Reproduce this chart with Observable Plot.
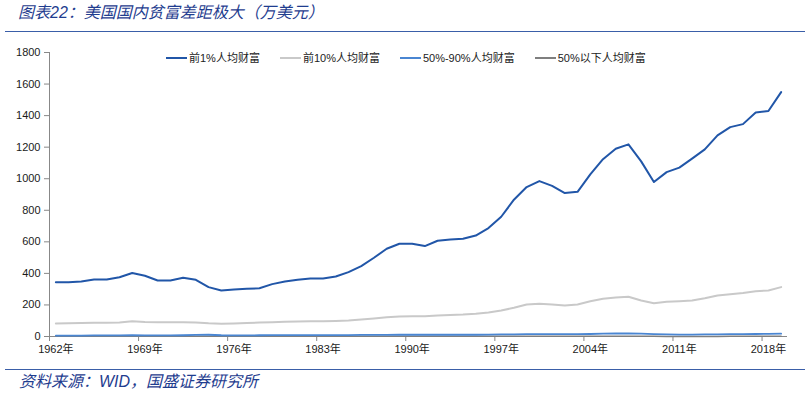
<!DOCTYPE html>
<html><head><meta charset="utf-8">
<script src="https://cdn.jsdelivr.net/npm/d3@7"></script>
<script src="https://cdn.jsdelivr.net/npm/@observablehq/plot@0.6"></script>
<style>
html,body{margin:0;padding:0;background:#fff;}
body{width:811px;height:395px;position:relative;overflow:hidden;font-family:"Liberation Sans","Noto Sans CJK SC",sans-serif;}
#title{position:absolute;left:18px;top:3px;font-style:italic;font-size:16px;line-height:20px;color:#1f3d8f;white-space:nowrap;}
#topline{position:absolute;left:5px;width:800px;top:31px;height:0;border-top:1.5px solid #3a5ea8;}
#chart{position:absolute;left:0;top:35px;}
#legend{position:absolute;left:166px;top:50px;display:flex;gap:20px;font-size:11px;line-height:16px;color:#222;white-space:nowrap;}
#legend .item{display:flex;align-items:center;gap:2px;}
#legend .sw{width:21px;height:0;border-top:2px solid;}
#botline{position:absolute;left:5px;width:800px;top:369px;height:0;border-top:1.5px solid #3a5ea8;}
#caption{position:absolute;left:19px;top:372px;font-style:italic;font-size:16px;line-height:20px;color:#1f3d8f;white-space:nowrap;}
</style>
</head><body>
<div id="title"></div>
<div id="topline"></div>
<div id="chart"></div>
<div id="legend"></div>
<div id="botline"></div>
<div id="caption"></div>
<script>
const titleText = "图表22：美国国内贫富差距极大（万美元）";
const captionText = "资料来源：WID，国盛证券研究所";

const years = d3.range(1962, 2020);

const seriesNames = ["前1%人均财富", "前10%人均财富", "50%-90%人均财富", "50%以下人均财富"];
const seriesColors = ["#2156a8", "#c9c9c9", "#4a86d2", "#7f7f7f"];
const seriesWidths = [2, 2, 1.8, 1.5];

const top1 = [344,344,349,361,361,376,402,385,355,355,372,359,313,292,298,302,306,332,348,359,368,368,380,408,446,499,556,588,588,573,607,615,619,640,687,759,867,947,985,955,909,917,1027,1124,1190,1218,1110,979,1042,1070,1127,1186,1275,1327,1346,1420,1429,1549];
const top10 = [82,84,85,87,87,89,96,92,90,90,91,89,84,81,83,85,88,90,93,95,96,96,98,101,107,114,122,127,129,129,133,136,139,144,152,165,182,203,207,203,197,203,224,239,247,252,228,211,220,224,228,243,260,268,275,287,292,313];
const mid40 = [6,6,6,7,7,7,8,7,7,7,8,10,11,8,7,7,8,9,9,9,9,9,9,9,10,10,10,11,11,11,11,11,11,11,12,13,14,15,15,15,15,15,16,18,19,19,18,15,13,12,12,13,14,15,15,16,17,18];
const bottom50 = [1.2,1.2,1.2,1.3,1.3,1.3,1.4,1.3,1.2,1.2,1.3,1.3,1.1,1.0,1.0,1.1,1.1,1.2,1.2,1.2,1.2,1.2,1.2,1.3,1.3,1.3,1.4,1.4,1.4,1.3,1.3,1.3,1.3,1.3,1.4,1.4,1.5,1.6,1.6,1.6,1.5,1.5,1.6,1.7,1.8,1.8,1.4,0.9,0.6,0.4,0.4,0.5,0.7,0.8,0.9,1.0,1.1,1.2];
const seriesValues = [top1, top10, mid40, bottom50];

const yTicks = [0,200,400,600,800,1000,1200,1400,1600,1800];
const xLabelYears = [1962,1969,1976,1983,1990,1997,2004,2011,2018];
const xTickLabels = ["1962年","1969年","1976年","1983年","1990年","1997年","2004年","2011年","2018年"];

document.getElementById("title").textContent = titleText;
document.getElementById("caption").textContent = captionText;

const legend = document.getElementById("legend");
seriesNames.forEach((n, i) => {
  const it = document.createElement("div"); it.className = "item";
  const sw = document.createElement("span"); sw.className = "sw"; sw.style.borderTopColor = seriesColors[i];
  const tx = document.createElement("span"); tx.textContent = n;
  it.appendChild(sw); it.appendChild(tx); legend.appendChild(it);
});

const rows = [];
seriesNames.forEach((n, i) => years.forEach((y, j) => rows.push({series: n, year: y, value: seriesValues[i][j]})));

const x0 = years[0] - 0.5, x1 = years[years.length - 1] + 0.5;
const boundaries = xLabelYears.map(y => y - 0.5);

const drawOrder = [3, 2, 1, 0];
const chart = Plot.plot({
  width: 811, height: 330,
  marginLeft: 49, marginRight: 24, marginTop: 17, marginBottom: 29,
  x: {type: "linear", domain: [x0, x1]},
  y: {domain: [0, 1800]},
  style: {fontFamily: "'Liberation Sans','Noto Sans CJK SC',sans-serif", fontSize: "11px", color: "#1a1a1a", background: "transparent", overflow: "visible"},
  marks: [
    Plot.axisY({ticks: yTicks, tickSize: 5, tickPadding: 4, stroke: "#888", label: null, tickFormat: d => String(d)}),
    Plot.axisX({ticks: boundaries, tickSize: 5, tickFormat: () => "", stroke: "#888", label: null}),
    Plot.axisX({ticks: xLabelYears, tickSize: 0, tickPadding: 9, tickFormat: (d, i) => xTickLabels[i], label: null}),
    Plot.ruleX([x0], {stroke: "#888"}),
    Plot.ruleY([0], {stroke: "#888"}),
    ...drawOrder.map(i => Plot.line(rows.filter(r => r.series === seriesNames[i]), {
      x: "year", y: "value", stroke: seriesColors[i], strokeWidth: seriesWidths[i], curve: "linear"
    }))
  ]
});
document.getElementById("chart").appendChild(chart);
</script>
</body></html>
